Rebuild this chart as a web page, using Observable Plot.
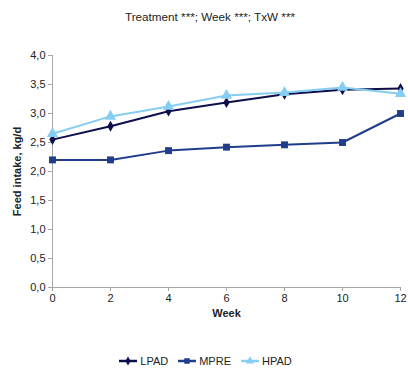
<!DOCTYPE html>
<html><head><meta charset="utf-8">
<script src="https://cdn.jsdelivr.net/npm/d3@7"></script>
<script src="https://cdn.jsdelivr.net/npm/@observablehq/plot@0.6"></script>
<style>
body{margin:0;background:#fff;font-family:"Liberation Sans",Arial,sans-serif;}
#wrap{position:relative;width:408px;height:371px;}
#title{position:absolute;top:10px;left:0;width:420px;text-align:center;font-size:11.7px;color:#222;}
#legend{position:absolute;top:355px;left:0;width:410px;display:flex;justify-content:center;gap:9px;font-size:11px;color:#222;}
#legend span{display:flex;align-items:center;gap:2px;}
#chart{position:absolute;top:0;left:0;}
</style></head>
<body><div id="wrap"><div id="chart"></div><div id="title"></div><div id="legend"></div></div>
<script>
const weeks = [0, 2, 4, 6, 8, 10, 12];
const LPAD = [2.55, 2.78, 3.04, 3.19, 3.33, 3.41, 3.43];
const MPRE = [2.20, 2.20, 2.36, 2.42, 2.46, 2.50, 3.00];
const HPAD = [2.65, 2.95, 3.12, 3.31, 3.36, 3.45, 3.34];
const seriesNames = ["LPAD", "MPRE", "HPAD"];
const colors = ["#0e0e4c", "#1f3d8a", "#86cdf2"];
const symbols = ["diamond", "square", "triangle"];
const yTicks = [0, 0.5, 1, 1.5, 2, 2.5, 3, 3.5, 4];
const xTicks = [0, 2, 4, 6, 8, 10, 12];
const titleText = "Treatment ***; Week ***; TxW ***";

const values = [LPAD, MPRE, HPAD];
const data = [];
seriesNames.forEach((s, i) => weeks.forEach((w, j) => data.push({series: s, week: w, value: values[i][j]})));

const fmt = d => d.toFixed(1).replace(".", ",");
const chart = Plot.plot({
  width: 408, height: 371,
  marginTop: 55, marginBottom: 84, marginLeft: 52, marginRight: 8,
  style: {fontFamily: '"Liberation Sans", Arial, sans-serif', fontSize: "11px", color: "#222"},
  x: {domain: [0, 12]},
  y: {domain: [0, 4]},
  color: {domain: seriesNames, range: colors},
  symbol: {domain: seriesNames, range: symbols},
  marks: [
    Plot.ruleX([0], {stroke: "#a6a6a6"}),
    Plot.ruleY([0], {stroke: "#a6a6a6"}),
    Plot.axisY({ticks: yTicks, tickFormat: fmt, tickSize: 4, stroke: "#a6a6a6", tickPadding: 3, label: null}),
    Plot.axisX({ticks: xTicks, tickSize: 4, stroke: "#a6a6a6", tickPadding: 3, label: null}),
    Plot.text(["Feed intake, kg/d"], {frameAnchor: "left", textAnchor: "middle", rotate: -90, dx: -35, fontWeight: "bold", fontSize: 11, fill: "#222"}),
    Plot.text(["Week"], {frameAnchor: "bottom", dy: 29, fontWeight: "bold", fontSize: 11, fill: "#222"}),
    Plot.line(data, {x: "week", y: "value", z: "series", stroke: "series", strokeWidth: 2}),
    Plot.dot(data.filter(d => d.series === "LPAD"), {x: "week", y: "value", symbol: "series", fill: "series", r: 3.3}),
    Plot.dot(data.filter(d => d.series === "MPRE"), {x: "week", y: "value", symbol: "series", fill: "series", r: 3.9}),
    Plot.dot(data.filter(d => d.series === "HPAD"), {x: "week", y: "value", symbol: "series", fill: "series", r: 4.2})
  ]
});
document.getElementById("chart").appendChild(chart);
document.getElementById("title").textContent = titleText;

const leg = document.getElementById("legend");
seriesNames.forEach((s, i) => {
  const span = document.createElement("span");
  const sym = d3.symbol().type([d3.symbolDiamond, d3.symbolSquare, d3.symbolTriangle][i]).size(i === 0 ? 24 : 30)();
  span.innerHTML = `<svg width="20" height="10"><line x1="1" x2="19" y1="5" y2="5" stroke="${colors[i]}" stroke-width="2.5"/><path d="${sym}" transform="translate(10,5)" fill="${colors[i]}"/></svg>${s}`;
  leg.appendChild(span);
});
</script></body></html>
